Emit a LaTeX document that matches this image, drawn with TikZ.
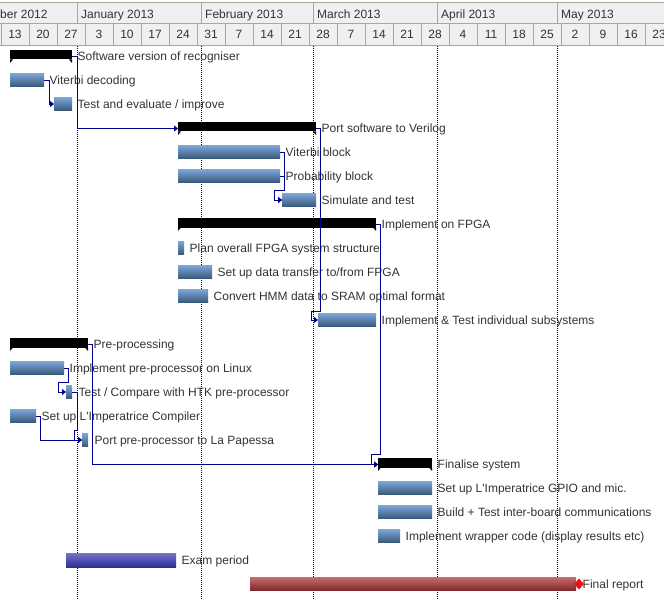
\documentclass[tikz,border=0pt]{standalone}
\usepackage{fontspec}
\setmainfont{Liberation Sans}
\usetikzlibrary{arrows.meta,positioning,calc,shapes.geometric}
\definecolor{txt}{HTML}{333333}
\definecolor{hdrfill}{HTML}{F0F0F0}
\definecolor{hdrline}{HTML}{ACA899}
\definecolor{deplink}{HTML}{00008C}
\definecolor{taskhi}{HTML}{7AA6D9}
\definecolor{tasklo}{HTML}{3A5878}
\definecolor{examhi}{HTML}{7474CA}
\definecolor{examlo}{HTML}{2E2E98}
\definecolor{repthi}{HTML}{C86C6C}
\definecolor{reptlo}{HTML}{7E2626}
\definecolor{mstonered}{HTML}{E81414}
\tikzset{
  >=stealth,
  task/.style  ={anchor=west, inner sep=0pt, outer sep=0pt, minimum height=13pt, top color=taskhi, bottom color=tasklo},
  exam/.style  ={anchor=west, inner sep=0pt, outer sep=0pt, minimum height=14pt, top color=examhi, bottom color=examlo},
  rept/.style  ={anchor=west, inner sep=0pt, outer sep=0pt, minimum height=13.5pt, top color=repthi, bottom color=reptlo},
  summ/.style  ={anchor=west, inner sep=0pt, outer sep=0pt, minimum height=13pt, path picture={
      \fill[black] (path picture bounding box.north west) rectangle ([yshift=3.5pt]path picture bounding box.south east);
      \fill[black] ([yshift=3.5pt]path picture bounding box.south west) -- ([xshift=3pt,yshift=3.5pt]path picture bounding box.south west) -- (path picture bounding box.south west) -- cycle;
      \fill[black] ([yshift=3.5pt]path picture bounding box.south east) -- ([xshift=-3pt,yshift=3.5pt]path picture bounding box.south east) -- (path picture bounding box.south east) -- cycle;}},
  mstone/.style={diamond, inner sep=0pt, minimum width=10pt, minimum height=11pt, fill=mstonered},
  lbl/.style   ={text=txt, inner sep=0pt, text height=10.5pt, text depth=2pt},
  hdr/.style   ={draw=hdrline, fill=hdrfill, line width=1pt},
  mline/.style ={draw=black, line width=1pt, dash pattern=on 1pt off 1pt},
  dep/.style   ={-{Triangle[length=4pt,width=6pt]}, draw=deplink, line width=0.9pt},
}

\begin{document}
\begin{tikzpicture}[x=1pt, y=-1pt, font=\fontsize{12}{14}\selectfont]
  \useasboundingbox (0,0) rectangle (664,599);
  \clip (0,0) rectangle (664,599);
  % time scale
  \foreach \a/\b/\t [count=\i] in {-42/77/December 2012, 77/201/January 2013, 201/313/February 2013,
      313/437/March 2013, 437/557/April 2013, 557/681/May 2013}{
    \draw[hdr] (\a,3) rectangle (\b,24);
    \node[lbl, anchor=west] (m\i) at ({\a+4},14.5) {\t};
  }
  \draw[hdr] (-20,24) rectangle (1,46);
  \foreach \d [count=\k from 0] in {13,20,27,3,10,17,24,31,7,14,21,28,7,14,21,28,4,11,18,25,2,9,16,23}{
    \draw[hdr] ({1+28*\k},24) rectangle ++(28,22);
    \node[lbl] (w\k) at ({15+28*\k},34.5) {\d};
  }
  \foreach \x in {77,201,313,437,557}
    \draw[mline] (\x,46) -- (\x,599);

  % bars
  \node[summ, minimum width=62pt]  (sw)   at (10,56.5)  {};
  \node[task, minimum width=34pt]  (vit)  at (10,80)    {};
  \node[task, minimum width=18pt]  (tst)  at (54,104)   {};
  \node[summ, minimum width=138pt] (port) at (178,128.5) {};
  \node[task, minimum width=102pt] (vblk) at (178,152)  {};
  \node[task, minimum width=102pt] (pblk) at (178,176)  {};
  \node[task, minimum width=34pt]  (sim)  at (282,200)  {};
  \node[summ, minimum width=198pt] (fpga) at (178,224.5) {};
  \node[task, minimum width=6pt]   (plan) at (178,248)  {};
  \node[task, minimum width=34pt]  (xfer) at (178,272)  {};
  \node[task, minimum width=30pt]  (hmm)  at (178,296)  {};
  \node[task, minimum width=58pt]  (impl) at (318,320)  {};
  \node[summ, minimum width=78pt]  (pre)  at (10,344.5) {};
  \node[task, minimum width=54pt]  (lin)  at (10,368)   {};
  \node[task, minimum width=6pt]   (htk)  at (66,392)   {};
  \node[task, minimum width=26pt]  (comp) at (10,416)   {};
  \node[task, minimum width=6pt]   (lap)  at (82,440)   {};
  \node[summ, minimum width=54pt]  (fin)  at (378,464.5) {};
  \node[task, minimum width=54pt]  (gpio) at (378,488)  {};
  \node[task, minimum width=54pt]  (comm) at (378,512)  {};
  \node[task, minimum width=22pt]  (wrap) at (378,536)  {};
  \node[exam, minimum width=110pt] (exam) at (66,560)   {};
  \node[rept, minimum width=326pt] (rep)  at (250,584)  {};
  \node[mstone] (repm) at (579,584) {};

  % labels
  \node[lbl, right=5.5pt of sw]   (swL)   {Software version of recogniser};
  \node[lbl, right=5.5pt of vit]  (vitL)  {Viterbi decoding};
  \node[lbl, right=5.5pt of tst]  (tstL)  {Test and evaluate / improve};
  \node[lbl, right=5.5pt of port] (portL) {Port software to Verilog};
  \node[lbl, right=5.5pt of vblk] (vblkL) {Viterbi block};
  \node[lbl, right=5.5pt of pblk] (pblkL) {Probability block};
  \node[lbl, right=5.5pt of sim]  (simL)  {Simulate and test};
  \node[lbl, right=5.5pt of fpga] (fpgaL) {Implement on FPGA};
  \node[lbl, right=5.5pt of plan] (planL) {Plan overall FPGA system structure};
  \node[lbl, right=5.5pt of xfer] (xferL) {Set up data transfer to/from FPGA};
  \node[lbl, right=5.5pt of hmm]  (hmmL)  {Convert HMM data to SRAM optimal format};
  \node[lbl, right=5.5pt of impl] (implL) {Implement \& Test individual subsystems};
  \node[lbl, right=5.5pt of pre]  (preL)  {Pre-processing};
  \node[lbl, right=5.5pt of lin]  (linL)  {Implement pre-processor on Linux};
  \node[lbl, right=6.5pt of htk]  (htkL)  {Test / Compare with HTK pre-processor};
  \node[lbl, right=5.5pt of comp] (compL) {Set up L\textquotesingle Imperatrice Compiler};
  \node[lbl, right=6.5pt of lap]  (lapL)  {Port pre-processor to La Papessa};
  \node[lbl, right=5.5pt of fin]  (finL)  {Finalise system};
  \node[lbl, right=5.5pt of gpio] (gpioL) {Set up L\textquotesingle Imperatrice GPIO and mic.};
  \node[lbl, right=5.5pt of comm] (commL) {Build + Test inter-board communications};
  \node[lbl, right=5.5pt of wrap] (wrapL) {Implement wrapper code (display results etc)};
  \node[lbl, right=5.5pt of exam] (examL) {Exam period};
  \node[lbl, right=6.5pt of rep]  (repL)  {Final report};

  % dependencies
  \draw[dep] (sw.east) -- ++(5,0) |- (port.west);
  \draw[dep] (vit.east) -- ++(5,0) |- (tst.west);
  \draw[dep] (port.east) -- ++(4,0) |- ($(impl.west)+(-7,-9)$) |- (impl.west);
  \draw[dep] (vblk.east) -- ++(4,0) |- ($(sim.west)+(-8,-10)$) |- (sim.west);
  \draw[dep] (pblk.east) -- ++(4,0) |- ($(sim.west)+(-8,-10)$) |- (sim.west);
  \draw[dep] (fpga.east) -- ++(4,0) |- ($(fin.west)+(-7,-10)$) |- (fin.west);
  \draw[dep] (pre.east) -- ++(4,0) |- (fin.west);
  \draw[dep] (lin.east) -- ++(4,0) |- ($(htk.west)+(-8,-10)$) |- (htk.west);
  \draw[dep] (htk.east) -- ++(5,0) |- ($(lap.west)+(-8,-10)$) |- (lap.west);
  \draw[dep] (comp.east) -- ++(4,0) |- (lap.west);
\end{tikzpicture}
\end{document}
